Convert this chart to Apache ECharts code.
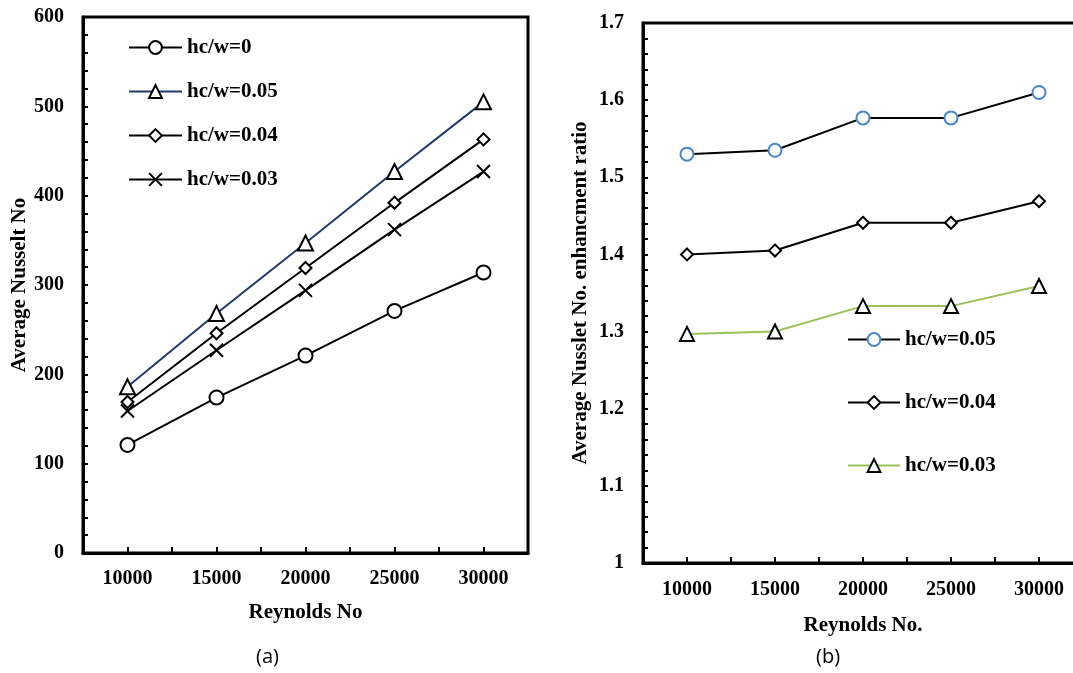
<!DOCTYPE html>
<html lang="en">
<head>
    <meta charset="UTF-8">
    <title>Nusselt</title>
    <script src="https://cdn.jsdelivr.net/npm/echarts@6/dist/echarts.min.js"></script>
    <style>
        *{
            margin:0;
            padding:0;
        }
        body{
            background:#fff;
            overflow:hidden;
        }
        /* wider than the window: the right frame of (b) runs off the page */
        #main{
            width:1100px;
            height:673px;
        }
    </style>
</head>
<body>
<div id="main"></div>
<script>
    // data
    var reynolds = [10000, 15000, 20000, 25000, 30000];

    // (a) average Nusselt number
    var nu00 = [121, 174, 221, 271, 314];
    var nu05 = [186, 268, 347, 427, 505];
    var nu04 = [169, 246, 319, 392, 463];
    var nu03 = [159, 227, 294, 362, 427];

    // (b) enhancement ratio
    var ratio05 = [1.530, 1.535, 1.577, 1.577, 1.610];
    var ratio04 = [1.400, 1.405, 1.441, 1.441, 1.469];
    var ratio03 = [1.297, 1.300, 1.333, 1.333, 1.359];

    function pairs(ys) {
        return reynolds.map(function (x, i) { return [x, ys[i]]; });
    }

    var font = 'Liberation Serif';
    var crossPath = 'path://M0,0L10,10M0,10L10,0';

    function xAxis(idx, margin, gap, name) {
        return {
            gridIndex: idx,
            type: 'value',
            min: 7500,
            max: 32500,
            interval: 2500,
            name: name,
            nameLocation: 'middle',
            nameGap: gap,
            nameTextStyle: {fontFamily: font, fontWeight: 'bold', fontSize: 21, color: '#000'},
            axisLine: {lineStyle: {color: '#000', width: 3}},
            axisTick: {inside: true, length: 6, lineStyle: {color: '#000', width: 2}},
            axisLabel: {
                margin: margin,
                fontFamily: font, fontWeight: 'bold', fontSize: 20, color: '#000',
                formatter: function (v) { return v % 5000 === 0 && v >= 10000 && v <= 30000 ? String(v) : ''; }
            },
            splitLine: {show: false}
        };
    }

    function yAxis(idx, min, max, interval, gap, name) {
        return {
            gridIndex: idx,
            type: 'value',
            min: min,
            max: max,
            interval: interval,
            name: name,
            nameLocation: 'middle',
            nameGap: gap,
            nameTextStyle: {fontFamily: font, fontWeight: 'bold', fontSize: 21, color: '#000'},
            axisLine: {lineStyle: {color: '#000', width: 3}},
            axisTick: {inside: true, length: 5, lineStyle: {color: '#000', width: 2}},
            minorTick: {show: true, splitNumber: 5, length: 5, lineStyle: {color: '#000', width: 2}},
            axisLabel: {margin: 19, fontFamily: font, fontWeight: 'bold', fontSize: 20, color: '#000'},
            splitLine: {show: false}
        };
    }

    function line(name, ys, xi, symbol, size, markColor, lineColor) {
        return {
            name: name,
            type: 'line',
            xAxisIndex: xi,
            yAxisIndex: xi,
            data: pairs(ys),
            symbol: symbol,
            symbolSize: size,
            showAllSymbol: true,
            itemStyle: {color: markColor, borderColor: markColor, borderWidth: 2},
            lineStyle: {color: lineColor, width: 2},
            emphasis: {disabled: true},
            z: 3
        };
    }

    var chart = echarts.init(document.getElementById('main'));

    var option = {
        animation: false,
        grid: [
            {left: 83, top: 17, width: 445, height: 536, show: true, borderColor: '#000', borderWidth: 3},
            {left: 643, top: 23, width: 440, height: 540, show: true, borderColor: '#000', borderWidth: 3}
        ],
        xAxis: [
            xAxis(0, 16, 49, 'Reynolds No'),
            xAxis(1, 17, 52, 'Reynolds No.')
        ],
        yAxis: [
            yAxis(0, 0, 600, 100, 51, 'Average Nusselt No'),
            yAxis(1, 1, 1.7, 0.1, 52, 'Average Nusslet No. enhancment ratio')
        ],
        legend: [
            {
                data: ['hc/w=0', 'hc/w=0.05', 'hc/w=0.04', 'hc/w=0.03'],
                orient: 'vertical',
                left: 123,
                top: 31,
                itemWidth: 53,
                itemHeight: 16,
                itemGap: 21,
                selectedMode: false,
                textStyle: {fontFamily: font, fontWeight: 'bold', fontSize: 21, color: '#000', lineHeight: 23}
            },
            {
                data: ['b:hc/w=0.05', 'b:hc/w=0.04', 'b:hc/w=0.03'],
                orient: 'vertical',
                left: 842,
                top: 323,
                itemWidth: 52,
                itemHeight: 16,
                itemGap: 40,
                selectedMode: false,
                formatter: function (n) { return n.replace('b:', ''); },
                textStyle: {fontFamily: font, fontWeight: 'bold', fontSize: 21, color: '#000', lineHeight: 23}
            }
        ],
        series: [
            line('hc/w=0', nu00, 0, 'emptyCircle', 14, '#000', '#000'),
            line('hc/w=0.05', nu05, 0, 'emptyTriangle', 15, '#000', '#1f3a6e'),
            line('hc/w=0.04', nu04, 0, 'emptyDiamond', 12, '#000', '#000'),
            line('hc/w=0.03', nu03, 0, crossPath, 13, '#000', '#000'),
            line('b:hc/w=0.05', ratio05, 1, 'emptyCircle', 13, '#4a86c8', '#000'),
            line('b:hc/w=0.04', ratio04, 1, 'emptyDiamond', 12, '#000', '#000'),
            line('b:hc/w=0.03', ratio03, 1, 'emptyTriangle', 14, '#000', '#9bc15a')
        ],
        graphic: [
            {type: 'text', left: 256, top: 647, style: {text: '(a)', font: '20px "Open Sans"', fill: '#000'}},
            {type: 'text', left: 816, top: 647, style: {text: '(b)', font: '20px "Open Sans"', fill: '#000'}}
        ]
    };

    chart.setOption(option);
</script>
</body>
</html>
